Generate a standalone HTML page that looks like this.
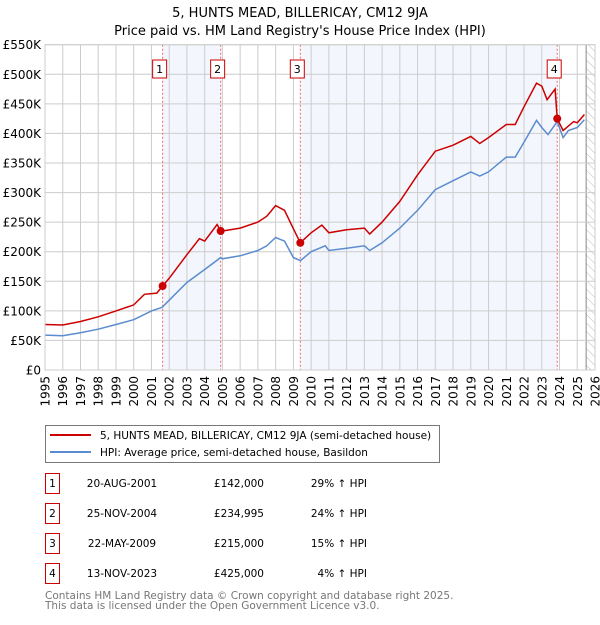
<!DOCTYPE html>
<html><head><meta charset="utf-8"><style>
html,body{margin:0;padding:0;background:#fff;}
svg text{font-family:"DejaVu Sans","Liberation Sans",sans-serif;}
</style></head><body>
<svg id="chart" width="600" height="620" xmlns="http://www.w3.org/2000/svg">
<text x="300" y="17" text-anchor="middle" font-size="13">5, HUNTS MEAD, BILLERICAY, CM12 9JA</text>
<text x="300" y="35" text-anchor="middle" font-size="13">Price paid vs. HM Land Registry's House Price Index (HPI)</text>
<defs><pattern id="hatch" width="6" height="6" patternUnits="userSpaceOnUse" patternTransform="rotate(-45)"><line x1="0" y1="0" x2="0" y2="6" stroke="#bbb" stroke-width="1"/></pattern></defs>
<g id="bg"></g><g id="grid"></g><g id="marks"></g><g id="axes"></g>
<rect x="45.5" y="425.5" width="394" height="37" fill="#fff" stroke="#777"/>
<line x1="50" y1="435" x2="91" y2="435" stroke="#cc0000" stroke-width="2"/>
<text x="100" y="439" font-size="10.5">5, HUNTS MEAD, BILLERICAY, CM12 9JA (semi-detached house)</text>
<line x1="50" y1="452" x2="91" y2="452" stroke="#5b8ccf" stroke-width="2"/>
<text x="100" y="456" font-size="10.5">HPI: Average price, semi-detached house, Basildon</text>
<g id="table"></g>
<text x="45" y="599" font-size="10.5" fill="#777">Contains HM Land Registry data © Crown copyright and database right 2025.</text>
<text x="45" y="609" font-size="10.5" fill="#777">This data is licensed under the Open Government Licence v3.0.</text>
</svg>
<script>
const hpiYears=[1995,1996,1997,1998,1999,2000,2001,2001.6,2002,2003,2004,2004.9,2005,2006,2007,2007.5,2008,2008.5,2009,2009.4,2010,2010.8,2011,2012,2013,2013.3,2014,2015,2016,2017,2018,2019,2019.5,2020,2021,2021.5,2022,2022.7,2023,2023.35,2023.87,2024.2,2024.5,2025,2025.4];
const hpiValues=[59,58,63,69,77,85,100,106,118,148,170,190,188,193,202,210,224,218,190,185,200,210,202,206,210,202,215,240,270,305,320,335,328,335,360,360,385,422,410,398,420,393,405,410,423];
const redYears=[1995,1996,1997,1998,1999,2000,2000.6,2001.3,2001.63,2002,2003,2003.7,2004,2004.7,2004.9,2005,2006,2007,2007.5,2008,2008.5,2008.9,2009.39,2010,2010.6,2011,2012,2013,2013.3,2014,2015,2016,2017,2018,2019,2019.5,2020,2021,2021.5,2022,2022.7,2023,2023.3,2023.75,2023.87,2024.2,2024.8,2025,2025.4];
const redValues=[77,76,82,90,100,110,128,130,142,155,195,222,218,246,235,235,240,250,260,278,270,245,215,232,245,232,237,240,230,250,285,330,370,380,395,383,393,415,415,445,485,480,457,475,425,405,420,418,432];
const saleYears=[2001.63,2004.9,2009.39,2023.87];
const salePrices=[142000,234995,215000,425000];
const saleLabels=["1","2","3","4"];
const saleDates=["20-AUG-2001","25-NOV-2004","22-MAY-2009","13-NOV-2023"];
const salePriceText=["£142,000","£234,995","£215,000","£425,000"];
const saleHpiText=["29% ↑ HPI","24% ↑ HPI","15% ↑ HPI","4% ↑ HPI"];
const yTicks=[0,50,100,150,200,250,300,350,400,450,500,550];
const yTickLabels=["£0","£50K","£100K","£150K","£200K","£250K","£300K","£350K","£400K","£450K","£500K","£550K"];
const xTicks=[1995,1996,1997,1998,1999,2000,2001,2002,2003,2004,2005,2006,2007,2008,2009,2010,2011,2012,2013,2014,2015,2016,2017,2018,2019,2020,2021,2022,2023,2024,2025,2026];

const L=45,R=595,T=44.7,B=370,X0=1995,X1=2026,YMAX=550;
const xs=y=>L+(y-X0)/(X1-X0)*(R-L);
const ys=v=>B-v/YMAX*(B-T);
const NS="http://www.w3.org/2000/svg";
function mk(parent,tag,attrs){const e=document.createElementNS(NS,tag);for(const k in attrs)e.setAttribute(k,attrs[k]);document.getElementById(parent).appendChild(e);return e;}

let e;
e=mk('bg','rect',{x:xs(saleYears[0]),y:T,width:xs(saleYears[1])-xs(saleYears[0]),height:B-T,fill:'#eef3fc',opacity:0.7});


e=mk('bg','rect',{x:xs(saleYears[2]),y:T,width:xs(saleYears[3])-xs(saleYears[2]),height:B-T,fill:'#eef3fc',opacity:0.7});


e=mk('bg','rect',{x:xs(2025.5),y:T,width:R-xs(2025.5),height:B-T,fill:'url(#hatch)'});


e=mk('bg','line',{x1:xs(2025.5),y1:T,x2:xs(2025.5),y2:B,stroke:'#888','stroke-width':1});



yTicks.forEach((v,i)=>{
  e=mk('grid','line',{x1:L,x2:R,y1:ys(v),y2:ys(v),stroke:'#ccc','stroke-width':1});
  
  
  e=mk('axes','text',{x:L-4,y:ys(v)+4.5,'text-anchor':'end','font-size':12});
  
  
  e.textContent=yTickLabels[i];
});
xTicks.forEach(t=>{
  e=mk('grid','line',{x1:xs(t),x2:xs(t),y1:T,y2:B,stroke:'#ccc','stroke-width':1});
  
  
  e=mk('axes','text',{x:0,y:0,'text-anchor':'end','font-size':12,transform:`translate(${xs(t)+4.5},${B+6}) rotate(-90)`});
  
  
  e.textContent=t;
});
saleYears.forEach((s,i)=>{
  e=mk('marks','line',{x1:xs(s),x2:xs(s),y1:T,y2:B,stroke:'#e66','stroke-width':1,'stroke-dasharray':'2,2'});
  
  
});
function path(xa,va){return xa.map((x,i)=>(i?'L':'M')+xs(x).toFixed(1)+','+ys(va[i]).toFixed(1)).join('');}
e=mk('marks','path',{d:path(hpiYears,hpiValues),fill:'none',stroke:'#5b8ccf','stroke-width':1.5});


e=mk('marks','path',{d:path(redYears,redValues),fill:'none',stroke:'#cc0000','stroke-width':1.5});


saleYears.forEach((s,i)=>{
  e=mk('marks','circle',{cx:xs(s),cy:ys(salePrices[i]/1000),r:4,fill:'#cc0000'});
  
  
  const bx=xs(s)-3;
  e=mk('marks','rect',{x:bx-7,y:60,width:14,height:18,fill:'#fff',stroke:'#cc0000'});
  
  
  e=mk('marks','text',{x:bx,y:73,'text-anchor':'middle','font-size':11});
  
  
  e.textContent=saleLabels[i];
  const ry=483+i*30;
  e=mk('table','rect',{x:45.5,y:ry-9.5,width:14,height:20,fill:'#fff',stroke:'#cc0000'});
  
  
  e=mk('table','text',{x:52.5,y:ry+4,'text-anchor':'middle','font-size':10.5});
  
  
  e.textContent=saleLabels[i];
  e=mk('table','text',{x:122,y:ry+4,'text-anchor':'middle','font-size':10.5});
  
  
  e.textContent=saleDates[i];
  e=mk('table','text',{x:264,y:ry+4,'text-anchor':'end','font-size':10.5});
  
  
  e.textContent=salePriceText[i];
  e=mk('table','text',{x:367,y:ry+4,'text-anchor':'end','font-size':10.5});
  
  
  e.textContent=saleHpiText[i];
});
e=mk('axes','rect',{x:L,y:T,width:R-L,height:B-T,fill:'none',stroke:'#ccc'});


</script>
</body></html>
